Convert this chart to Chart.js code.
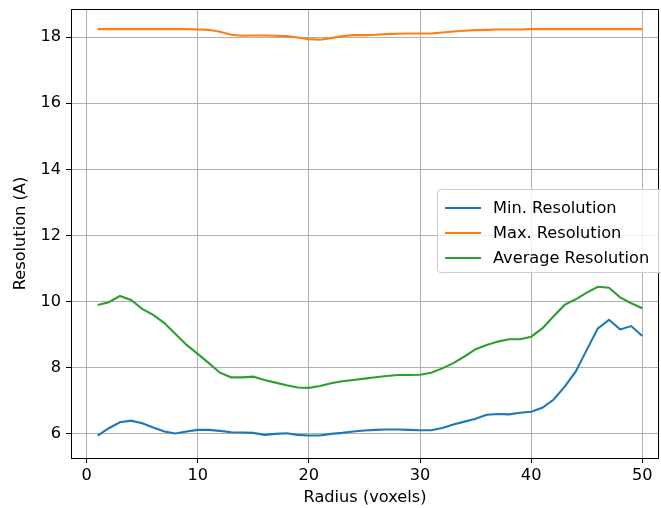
<!DOCTYPE html>
<html lang="en">
<head>
<meta charset="UTF-8">
<title>Resolution vs Radius</title>
<script src="https://cdn.jsdelivr.net/npm/chart.js@4.4.0/dist/chart.umd.min.js"></script>
<style>
  html, body { margin: 0; padding: 0; background: #fff; }
  #wrap { width: 661px; height: 508px; }
</style>
</head>
<body>
<div id="wrap"><canvas id="chart" width="661" height="508"></canvas></div>
<script>
  const radius = [1, 2, 3, 4, 5, 6, 7, 8, 9, 10, 11, 12, 13, 14, 15, 16, 17, 18, 19, 20, 21, 22, 23, 24, 25,
                  26, 27, 28, 29, 30, 31, 32, 33, 34, 35, 36, 37, 38, 39, 40, 41, 42, 43, 44, 45, 46, 47, 48, 49, 50];
  const minRes = [5.95, 6.17, 6.35, 6.40, 6.32, 6.19, 6.07, 6.01, 6.07, 6.12,
                  6.12, 6.09, 6.05, 6.04, 6.03, 5.97, 6.00, 6.02, 5.97, 5.95,
                  5.95, 6.00, 6.03, 6.07, 6.10, 6.12, 6.13, 6.13, 6.12, 6.11,
                  6.11, 6.18, 6.28, 6.37, 6.46, 6.58, 6.60, 6.59, 6.64, 6.67,
                  6.79, 7.03, 7.42, 7.88, 8.54, 9.19, 9.45, 9.16, 9.26, 8.96];
  const maxRes = [18.24, 18.24, 18.24, 18.24, 18.24, 18.24, 18.24, 18.24, 18.24, 18.23,
                  18.22, 18.16, 18.07, 18.04, 18.05, 18.05, 18.04, 18.03, 17.99, 17.94,
                  17.92, 17.97, 18.03, 18.06, 18.06, 18.07, 18.09, 18.10, 18.11, 18.11,
                  18.11, 18.14, 18.17, 18.19, 18.21, 18.22, 18.23, 18.23, 18.23, 18.24,
                  18.24, 18.24, 18.24, 18.24, 18.24, 18.24, 18.24, 18.24, 18.24, 18.24];
  const avgRes = [9.90, 9.98, 10.17, 10.05, 9.78, 9.60, 9.35, 9.02, 8.69, 8.42,
                  8.14, 7.85, 7.71, 7.71, 7.73, 7.63, 7.55, 7.47, 7.40, 7.39,
                  7.45, 7.53, 7.59, 7.63, 7.67, 7.71, 7.75, 7.78, 7.78, 7.79,
                  7.85, 7.98, 8.14, 8.34, 8.56, 8.69, 8.79, 8.86, 8.86, 8.94,
                  9.19, 9.55, 9.90, 10.07, 10.27, 10.45, 10.42, 10.13, 9.95, 9.80];
  const seriesNames = ['Min. Resolution', 'Max. Resolution', 'Average Resolution'];
  const seriesColors = ['#1f77b4', '#ff7f0e', '#2ca02c'];
  const xTicks = [0, 10, 20, 30, 40, 50];
  const yTicks = [6, 8, 10, 12, 14, 16, 18];

  const FONT = 'DejaVu Sans';
  const FS = 16.2;

  function points(ys) {
    return radius.map((r, i) => ({ x: r, y: ys[i] }));
  }

  // box around the plot area (matplotlib spines)
  const frame = {
    id: 'frame',
    afterDatasetsDraw(chart) {
      const { ctx, chartArea: a } = chart;
      ctx.save();
      ctx.strokeStyle = '#000';
      ctx.lineWidth = 1;
      ctx.strokeRect(Math.round(a.left) + 0.5, Math.round(a.top) + 0.5,
        Math.round(a.right - a.left) - 1, Math.round(a.bottom - a.top));
      ctx.restore();
    }
  };

  // legend drawn inside the axes, right side
  const innerLegend = {
    id: 'innerLegend',
    afterDraw(chart) {
      const { ctx } = chart;
      const box = { x: 437, y: 189, w: 226, h: 83 };
      ctx.save();
      ctx.globalAlpha = 0.8;
      ctx.fillStyle = '#fff';
      ctx.strokeStyle = '#cccccc';
      ctx.lineWidth = 1;
      ctx.beginPath();
      ctx.roundRect(box.x + 0.5, box.y + 0.5, box.w, box.h, 3);
      ctx.fill();
      ctx.globalAlpha = 1;
      ctx.stroke();
      ctx.font = FS + 'px "' + FONT + '"';
      ctx.textBaseline = 'middle';
      ctx.fillStyle = '#000';
      chart.data.datasets.forEach((ds, i) => {
        const y = box.y + 19 + i * 25;
        ctx.strokeStyle = ds.borderColor;
        ctx.lineWidth = 2.1;
        ctx.beginPath();
        ctx.moveTo(box.x + 8, y);
        ctx.lineTo(box.x + 44, y);
        ctx.stroke();
        ctx.fillText(ds.label, box.x + 56, y + 1);
      });
      ctx.restore();
    }
  };

  new Chart(document.getElementById('chart'), {
    type: 'line',
    data: {
      datasets: [minRes, maxRes, avgRes].map((ys, i) => ({
        label: seriesNames[i],
        data: points(ys),
        borderColor: seriesColors[i],
        backgroundColor: seriesColors[i],
        borderWidth: 2.1,
        pointRadius: 0,
        tension: 0,
        fill: false
      }))
    },
    options: {
      responsive: false,
      animation: false,
      layout: { padding: { top: 9, right: 2, left: 0, bottom: 0 } },
      plugins: {
        legend: { display: false },
        tooltip: { enabled: false }
      },
      scales: {
        x: {
          type: 'linear',
          min: -1.4,
          max: 51.5,
          afterBuildTicks: s => { s.ticks = xTicks.map(v => ({ value: v })); },
          afterFit: s => { s.height = 50; s.paddingLeft = 0; s.paddingRight = 0; },
          ticks: { color: '#000', font: { family: FONT, size: FS }, padding: 3, maxRotation: 0 },
          grid: { color: '#b0b0b0', lineWidth: 1, tickColor: '#000', tickLength: 5 },
          border: { display: false },
          title: { display: true, text: 'Radius (voxels)', color: '#000',
                   font: { family: FONT, size: FS }, padding: { top: 0, bottom: 0 } }
        },
        y: {
          min: 5.27,
          max: 18.85,
          afterBuildTicks: s => { s.ticks = yTicks.map(v => ({ value: v })); },
          afterFit: s => { s.width = 71; s.paddingTop = 0; s.paddingBottom = 0; },
          ticks: { color: '#000', font: { family: FONT, size: FS }, padding: 5 },
          grid: { color: '#b0b0b0', lineWidth: 1, tickColor: '#000', tickLength: 5 },
          border: { display: false },
          title: { display: true, text: 'Resolution (A)', color: '#000',
                   font: { family: FONT, size: FS }, padding: { top: 11, bottom: 0 } }
        }
      }
    },
    plugins: [frame, innerLegend]
  });
</script>
</body>
</html>
